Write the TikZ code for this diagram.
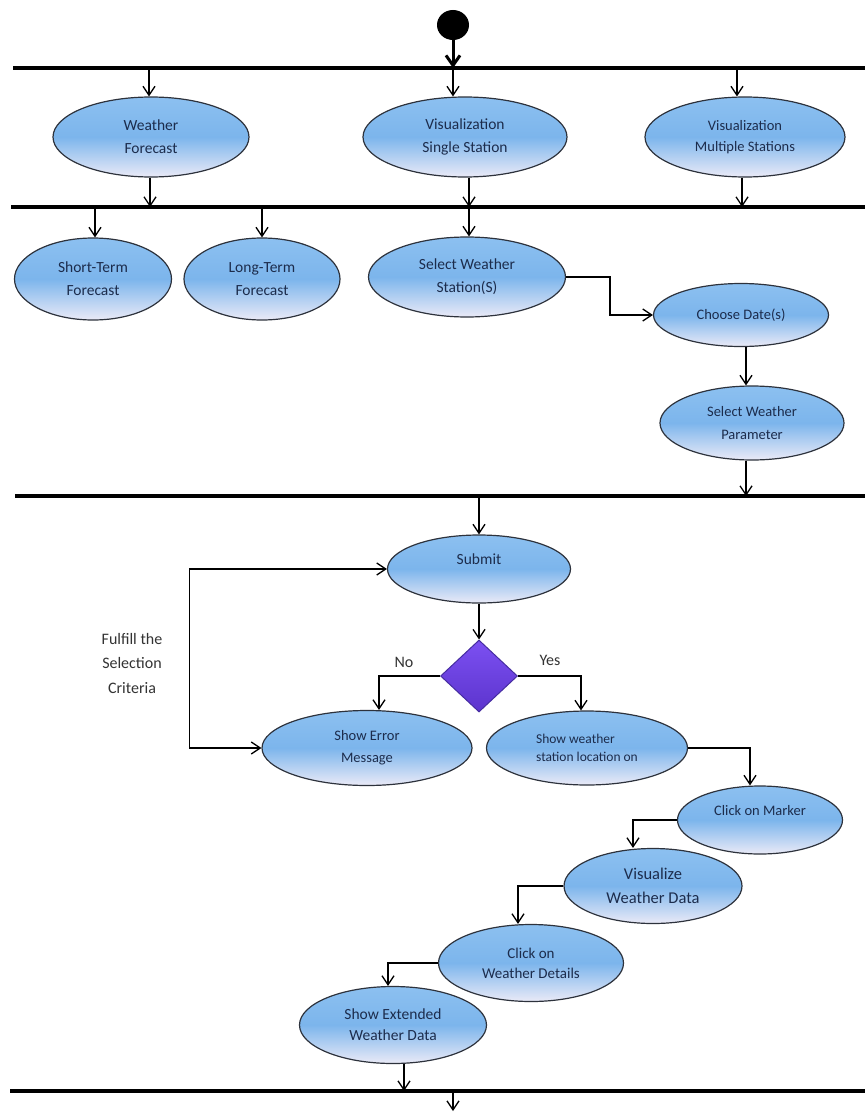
\documentclass[tikz,border=0pt]{standalone}
\usepackage{fontspec}
\setmainfont{Carlito}
\usetikzlibrary{shapes.geometric, arrows.meta}

\definecolor{actTop}{RGB}{140,192,240}
\definecolor{actMid}{RGB}{124,181,236}
\definecolor{actBot}{RGB}{234,234,247}
\definecolor{actLine}{RGB}{45,50,60}
\definecolor{actText}{RGB}{28,44,76}
\definecolor{decTop}{RGB}{124,80,242}
\definecolor{decBot}{RGB}{92,52,205}
\definecolor{decLine}{RGB}{70,45,160}

\begin{document}
\begin{tikzpicture}[
        x=1pt, y=-1pt,
        act/.style={
            ellipse,
            draw=actLine,
            line width=1.2pt,
            top color=actTop,
            bottom color=actBot,
            middle color=actMid,
            inner sep=0,
            align=center,
            text=actText,
            font=\fontsize{15.5}{23}\selectfont
        },
        raised/.style={text depth=20pt},
        decision/.style={
            diamond,
            draw=decLine,
            line width=1pt,
            top color=decTop,
            bottom color=decBot,
            inner sep=0,
            minimum width=77pt,
            minimum height=72pt
        },
        startdot/.style={ellipse, fill=black, inner sep=0,
            minimum width=32pt, minimum height=30pt},
        bar/.style={line width=4pt},
        flow/.style={line width=1.3pt, -{Straight Barb[length=9pt,width=12pt]}},
        note/.style={text=black!80, align=center,
            font=\fontsize{16}{24.5}\selectfont}
    ]
    \useasboundingbox (0,0) rectangle (865,1113);

    % fork / join bars
    \draw[bar] (13,68) -- (865,68);
    \draw[bar] (11,207) -- (865,207);
    \draw[bar] (15,496) -- (865,496);
    \draw[bar] (10,1091) -- (865,1091);

    \coordinate (s1) at (453,68);
    \coordinate (w1) at (149,68);
    \coordinate (m1) at (737,68);
    \coordinate (a2) at (150,207);
    \coordinate (b2) at (469,207);
    \coordinate (c2) at (742,207);
    \coordinate (d2) at (95,207);
    \coordinate (e2) at (262,207);
    \coordinate (a3) at (746,496);
    \coordinate (b3) at (479,496);
    \coordinate (a4) at (404,1091);
    \coordinate (b4) at (453,1091);
    \coordinate (fin) at (453,1111);

    % activities
    \node[startdot] (start) at (453,25) {};
    \node[act, minimum width=196pt, minimum height=80pt] (wf) at (151,137)
        {Weather\\Forecast};
    \node[act, minimum width=204pt, minimum height=80pt] (vss) at (465,137)
        {Visualization\\Single Station};
    \node[act, minimum width=200pt, minimum height=80pt,
        font=\fontsize{14.5}{21}\selectfont] (vms) at (745,137)
        {Visualization\\Multiple Stations};
    \node[act, minimum width=157pt, minimum height=82pt] (stf) at (93,279)
        {Short-Term\\Forecast};
    \node[act, minimum width=156pt, minimum height=82pt] (ltf) at (262,279)
        {Long-Term\\Forecast};
    \node[act, minimum width=197pt, minimum height=80pt] (sws) at (467,277)
        {Select Weather\\Station(S)};
    \node[act, minimum width=175pt, minimum height=63pt,
        font=\fontsize{14.5}{21}\selectfont] (cds) at (741,315)
        {Choose Date(s)};
    \node[act, minimum width=184pt, minimum height=74pt,
        font=\fontsize{14.5}{23}\selectfont] (swp) at (752,423)
        {Select Weather\\Parameter};
    \node[act, raised, minimum width=183pt, minimum height=68pt] (sub) at (479,569)
        {Submit};
    \node[decision] (dec) at (479,676) {};
    \node[act, minimum width=210pt, minimum height=75pt,
        font=\fontsize{14.5}{22}\selectfont] (err) at (367,748)
        {Show Error\\Message};
    \node[act, align=left, minimum width=201pt, minimum height=74pt,
        font=\fontsize{13.5}{18}\selectfont] (loc) at (587,748)
        {Show weather\\station location on};
    \node[act, raised, minimum width=165pt, minimum height=68pt,
        font=\fontsize{14.5}{21}\selectfont] (mrk) at (760,820)
        {Click on Marker};
    \node[act, minimum width=178pt, minimum height=75pt,
        font=\fontsize{16.5}{24}\selectfont] (vwd) at (653,886)
        {Visualize\\Weather Data};
    \node[act, minimum width=185pt, minimum height=77pt,
        font=\fontsize{15}{20}\selectfont] (cwd) at (531,963)
        {Click on\\Weather Details};
    \node[act, minimum width=187pt, minimum height=77pt,
        font=\fontsize{15.5}{21}\selectfont] (sed) at (393,1025)
        {Show Extended\\Weather Data};

    \node[note] (crit) at (132,663) {Fulfill the\\Selection\\Criteria};
    \node[note] (no) at (404,662) {No};
    \node[note] (yes) at (550,660) {Yes};

    % flows
    \draw[line width=3pt, -{Straight Barb[length=10pt,width=14pt]}] (start) -- (s1);
    \draw[flow] (w1) -- (w1 |- wf.north);
    \draw[flow] (s1) -- (s1 |- vss.north);
    \draw[flow] (m1) -- (m1 |- vms.north);
    \draw[flow] (a2 |- wf.south) -- (a2);
    \draw[flow] (b2 |- vss.south) -- (b2);
    \draw[flow] (c2 |- vms.south) -- (c2);
    \draw[flow] (d2) -- (d2 |- stf.north);
    \draw[flow] (e2) -- (e2 |- ltf.north);
    \draw[flow] (b2) -- (b2 |- sws.north);
    \draw[flow] (sws.east) -- ++(44,0) |- (cds.west);
    \draw[flow] (a3 |- cds.south) -- (a3 |- swp.north);
    \draw[flow] (a3 |- swp.south) -- (a3);
    \draw[flow] (b3) -- (sub);
    \draw[flow] (sub) -- (dec);
    \draw[flow] (dec.west) -| ([xshift=12pt]err.north);
    \draw[flow] (dec.east) -| ([xshift=-6pt]loc.north);
    \draw[flow, {Straight Barb[length=9pt,width=12pt]}-{Straight Barb[length=9pt,width=12pt]}]
        (err.west) -- ++(-72,0) |- (sub.west);
    \draw[flow] (loc.east) -| ([xshift=-10pt]mrk.north);
    \draw[flow] (mrk.west) -| ([xshift=-20pt]vwd.north);
    \draw[flow] (vwd.west) -| ([xshift=-13pt]cwd.north);
    \draw[flow] (cwd.west) -| ([xshift=-5pt]sed.north);
    \draw[flow] (a4 |- sed.south) -- (a4);
    \draw[flow] (b4) -- (fin);
\end{tikzpicture}
\end{document}
